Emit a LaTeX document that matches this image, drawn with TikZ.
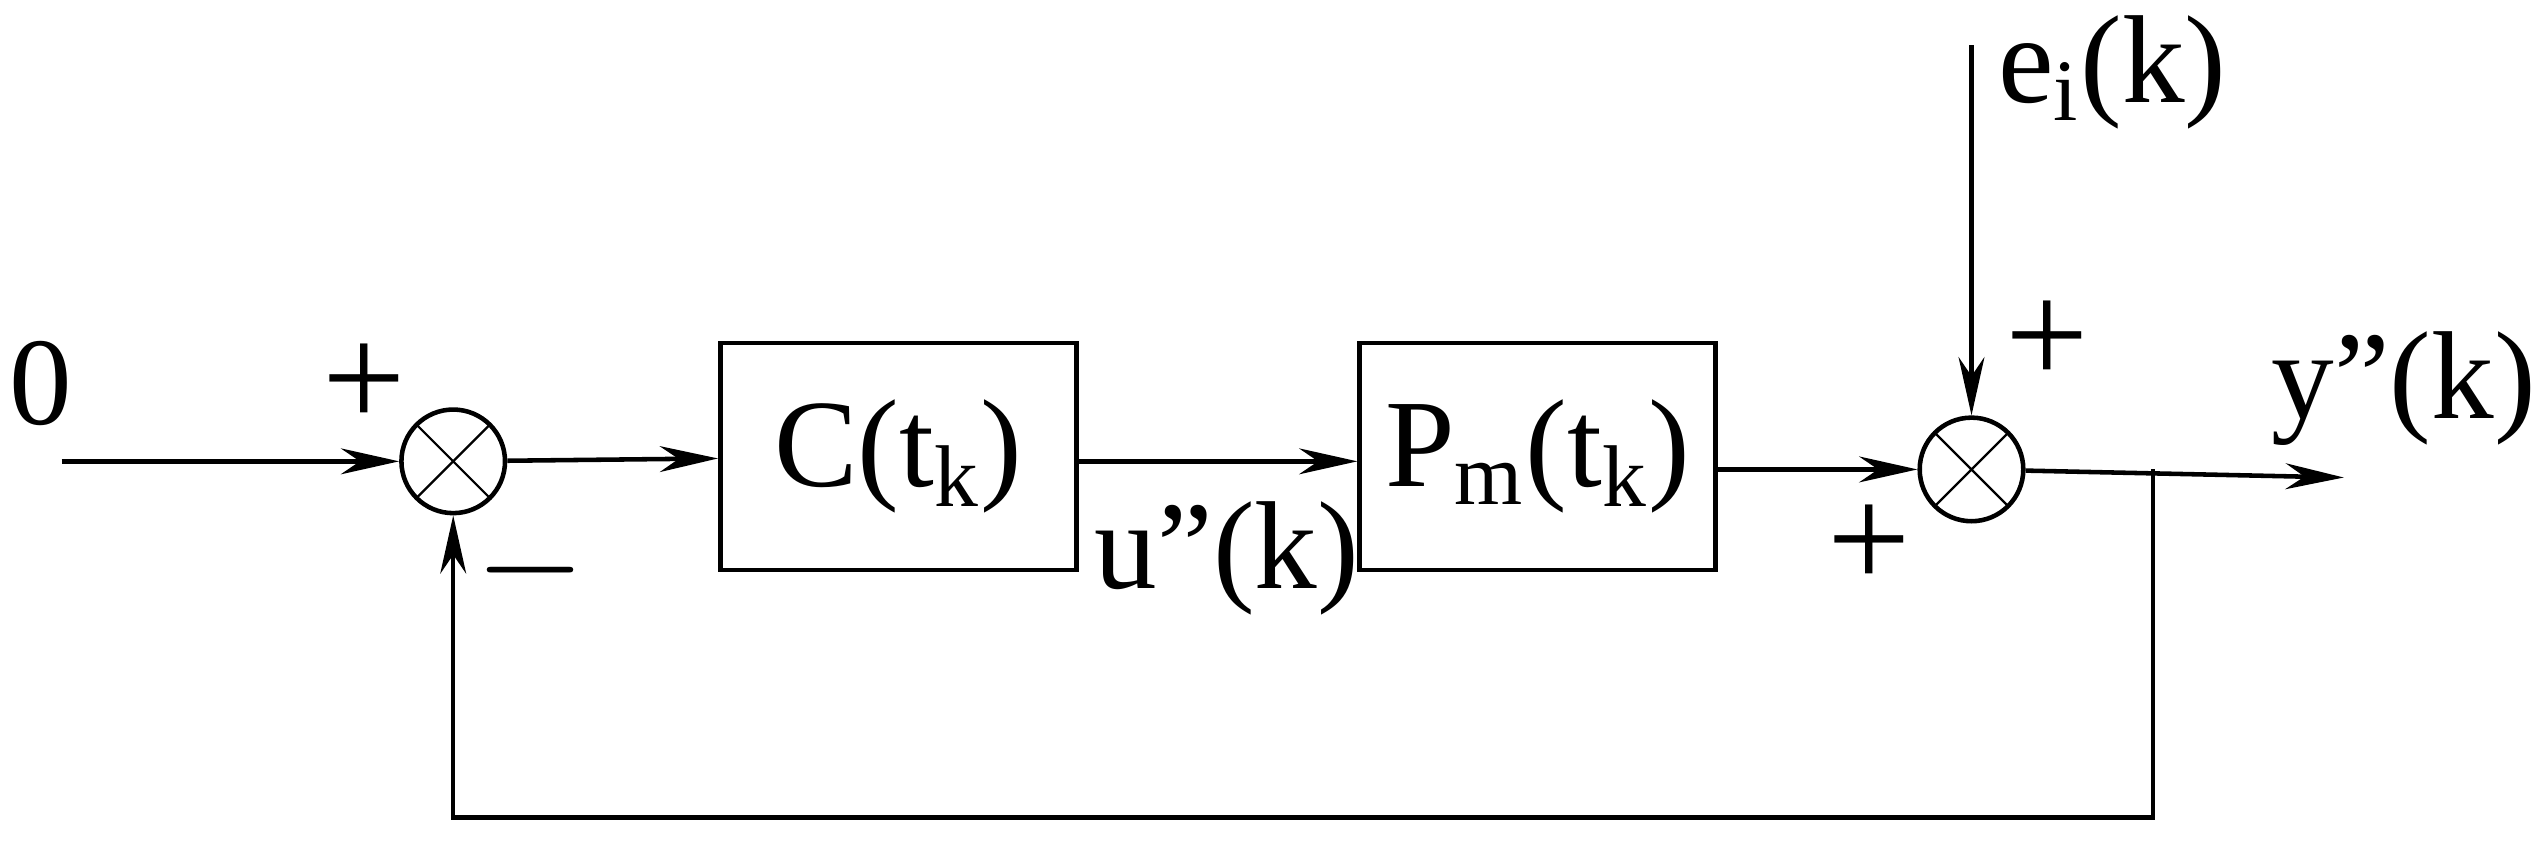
\documentclass[tikz,border=0pt]{standalone}
\usepackage{fontspec}
\setmainfont{Liberation Serif}
\usetikzlibrary{arrows.meta, positioning}
\tikzset{block/.style = {rectangle, draw=black, thick, minimum width=2.2cm,
                         minimum height=1.4cm, font=\fontsize{22}{24}\selectfont},
         sum/.style   = {circle, draw=black, thick, minimum size=0.64cm, inner sep=0pt,
                         path picture={\draw[thin] (path picture bounding box.south west) -- (path picture bounding box.north east)
                                       (path picture bounding box.north west) -- (path picture bounding box.south east);}},
         arrow/.style = {thick, -{Stealth[length=0.36cm, width=0.16cm]}},
         line/.style  = {thick},
         lbl/.style   = {font=\fontsize{22}{24}\selectfont},
         sgn/.style   = {font=\fontsize{26}{28}\selectfont}}
\begin{document}
\begin{tikzpicture}
  \useasboundingbox (0,0) rectangle (15.68,-5.30);
  % blocks
  \node [sum] (S1) at (2.80,-2.85) {};
  \node [block] (C)  at (5.55,-2.82) {C(t$_{\mathrm{k}}$)};
  \node [block] (P)  at (9.50,-2.82) {P$_{\mathrm{m}}$(t$_{\mathrm{k}}$)};
  \node [sum] (S2) at (12.18,-2.90) {};
  \coordinate (in)  at (0.38,-2.85);
  \coordinate (dist) at (12.18,-0.28);
  \coordinate (out) at (14.48,-2.95);
  \coordinate (tap) at (13.30,-2.90);
  \coordinate (fb)  at (13.30,-5.05);
  % connectors
  \draw [arrow] (in) -- (S1);
  \draw [arrow] (S1) -- (C);
  \draw [arrow] (C.east |- 0,-2.85) -- (P.west |- 0,-2.85);
  \draw [arrow] (P.east |- 0,-2.90) -- (S2);
  \draw [arrow] (dist) -- (S2);
  \draw [arrow] (S2) -- (out);
  \draw [arrow] (tap) -- (fb) -| (S1);
  % labels
  \node [lbl] (zero) at (0.25,-2.37) {0};
  \node [sgn] (p1) at (2.25,-2.38) {+};
  \node [sgn] (m1) at (3.28,-3.52) {$-$};
  \node [lbl] (u)  at (7.58,-3.45) {u"(k)};
  \node [sgn] (p2) at (11.55,-3.38) {+};
  \node [sgn] (p3) at (12.65,-2.12) {+};
  \node [lbl] (e)  at (13.05,-0.45) {e$_{\mathrm{i}}$(k)};
  \node [lbl] (y)  at (14.85,-2.40) {y"(k)};
\end{tikzpicture}
\end{document}
